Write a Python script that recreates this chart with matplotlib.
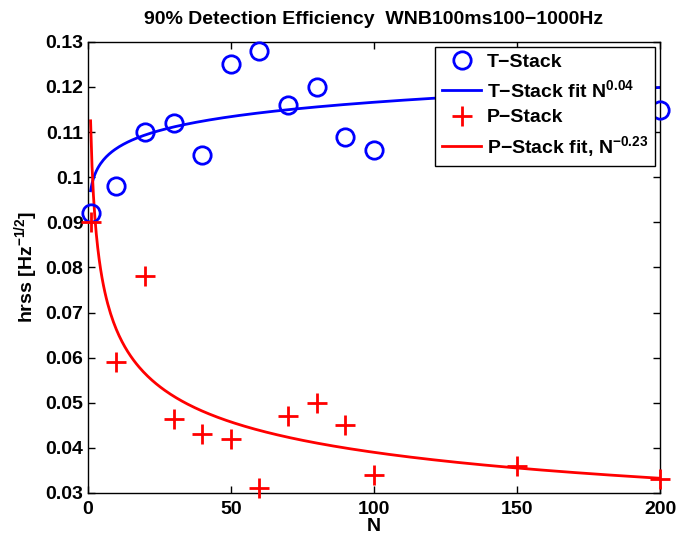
import numpy as np
import matplotlib
matplotlib.use("Agg")
import matplotlib.pyplot as plt

plt.rcParams['font.family'] = ['Liberation Sans', 'DejaVu Sans']
plt.rcParams['font.weight'] = 'bold'
plt.rcParams['mathtext.fontset'] = 'custom'
plt.rcParams['mathtext.rm'] = 'Liberation Sans:bold'
plt.rcParams['mathtext.bf'] = 'Liberation Sans:bold'
plt.rcParams['mathtext.default'] = 'bf'

# data
n_vals = [1, 10, 20, 30, 40, 50, 60, 70, 80, 90, 100, 150, 200]
t_stack = [0.092, 0.098, 0.110, 0.112, 0.105, 0.125, 0.128, 0.116, 0.120, 0.109, 0.106, 0.118, 0.115]
p_stack = [0.090, 0.059, 0.078, 0.0465, 0.043, 0.042, 0.031, 0.047, 0.050, 0.045, 0.034, 0.036, 0.033]

# power-law fits  a * N^b
t_fit_amp, t_fit_exp = 0.0970, 0.04
p_fit_amp, p_fit_exp = 0.1125, -0.23

fig = plt.figure(figsize=(6.8, 5.37), dpi=100)
ax = fig.add_axes([0.129, 0.082, 0.842, 0.840])

n_fine = np.linspace(1, 200, 400)

ax.plot(n_vals, t_stack, 'o', color='blue', mfc='none', ms=12.5, mew=2,
        label='T\u2212Stack', clip_on=False, zorder=3)
ax.plot(n_fine, t_fit_amp * n_fine ** t_fit_exp, '-', color='blue', lw=2,
        label='T\u2212Stack fit N$^{0.04}$')
ax.plot(n_vals, p_stack, '+', color='red', ms=14, mew=2, label='P\u2212Stack',
        clip_on=False, zorder=3)
ax.plot(n_fine, p_fit_amp * n_fine ** p_fit_exp, '-', color='red', lw=2,
        label='P\u2212Stack fit, N$^{\u22120.23}$')

ax.set_xlim(0, 200)
ax.set_ylim(0.03, 0.13)
ax.set_xticks([0, 50, 100, 150, 200])
ax.set_yticks(np.arange(0.03, 0.1301, 0.01))
ax.set_yticklabels(['0.03', '0.04', '0.05', '0.06', '0.07', '0.08', '0.09', '0.1', '0.11', '0.12', '0.13'])
ax.tick_params(direction='in', top=True, right=True, labelsize=14, length=5, width=1)
ax.tick_params(axis='x', pad=6)
ax.tick_params(axis='y', pad=3)
for s in ax.spines.values():
    s.set_linewidth(1)

ax.set_xlabel('N', fontsize=14, fontweight='bold', labelpad=0)
ax.set_ylabel('hrss [Hz$^{\u22121/2}$]', fontsize=14, fontweight='bold', labelpad=4)
ax.set_title('90% Detection Efficiency  WNB100ms100\u22121000Hz', fontsize=14, fontweight='bold', pad=13)

leg = ax.legend(loc='upper right', bbox_to_anchor=(0.991, 0.989), fontsize=14, frameon=True,
                fancybox=False, edgecolor='black', framealpha=1, borderpad=0.35,
                labelspacing=0.4, handlelength=2.0, handletextpad=0.3, borderaxespad=0)
leg.get_frame().set_linewidth(1)
leg.set_zorder(5)

fig.savefig('out.png', dpi=100)
